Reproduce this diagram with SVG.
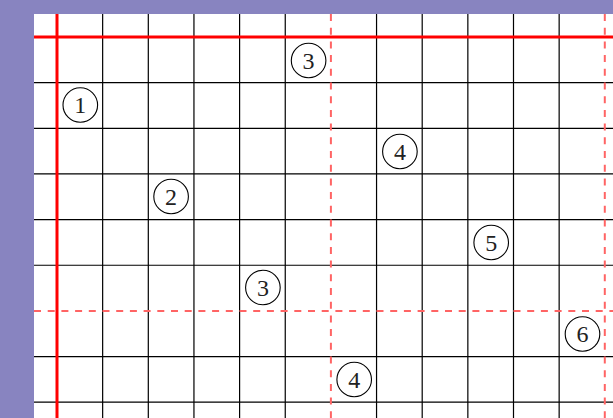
<svg xmlns="http://www.w3.org/2000/svg" width="613" height="418" viewBox="0 0 613 418">
<style>
.g{stroke:#000;stroke-width:1.2;fill:none}
.r{stroke:#ff0000;stroke-width:3;fill:none}
.d{stroke:#ff6464;stroke-width:2;fill:none;stroke-dasharray:7 6.7}
.n circle{fill:none;stroke:#000;stroke-width:1.1}
.n text{font-family:"Liberation Serif","DejaVu Serif",serif;font-size:24px;text-anchor:middle;fill:#222}
</style>
<rect x="0" y="0" width="613" height="418" fill="#8884c0"/>
<rect x="34" y="14" width="579" height="404" fill="#fff"/>
<g id="connectors">
<g id="grid">
<path class="g" d="M102.65 14V418M148.3 14V418M193.95 14V418M239.6 14V418M285.25 14V418M376.55 14V418M422.2 14V418M467.85 14V418M513.5 14V418M559.15 14V418"/>
<path class="g" d="M34 82.65H613M34 128.3H613M34 173.95H613M34 219.6H613M34 265.25H613M34 356.55H613M34 402.2H613"/>
</g>
<path class="d" d="M330.9 14V418M604.8 14V418M34 310.9H613"/>
<path class="r" d="M57 14V418M34 37H613"/>
</g>
<g id="n1" class="n"><circle cx="80.3" cy="105" r="17.3"/><text x="80.3" y="113">1</text></g>
<g id="n2" class="n"><circle cx="171.1" cy="196.5" r="17.3"/><text x="171.1" y="204.5">2</text></g>
<g id="n3a" class="n"><circle cx="308.6" cy="60.5" r="17.3"/><text x="308.6" y="68.5">3</text></g>
<g id="n3b" class="n"><circle cx="262.9" cy="287.5" r="17.3"/><text x="262.9" y="295.5">3</text></g>
<g id="n4a" class="n"><circle cx="399.9" cy="151.5" r="17.3"/><text x="399.9" y="159.5">4</text></g>
<g id="n4b" class="n"><circle cx="354.2" cy="379.5" r="17.3"/><text x="354.2" y="387.5">4</text></g>
<g id="n5" class="n"><circle cx="491.2" cy="242.5" r="17.3"/><text x="491.2" y="250.5">5</text></g>
<g id="n6" class="n"><circle cx="582.5" cy="334" r="17.3"/><text x="582.5" y="342">6</text></g>
</svg>
